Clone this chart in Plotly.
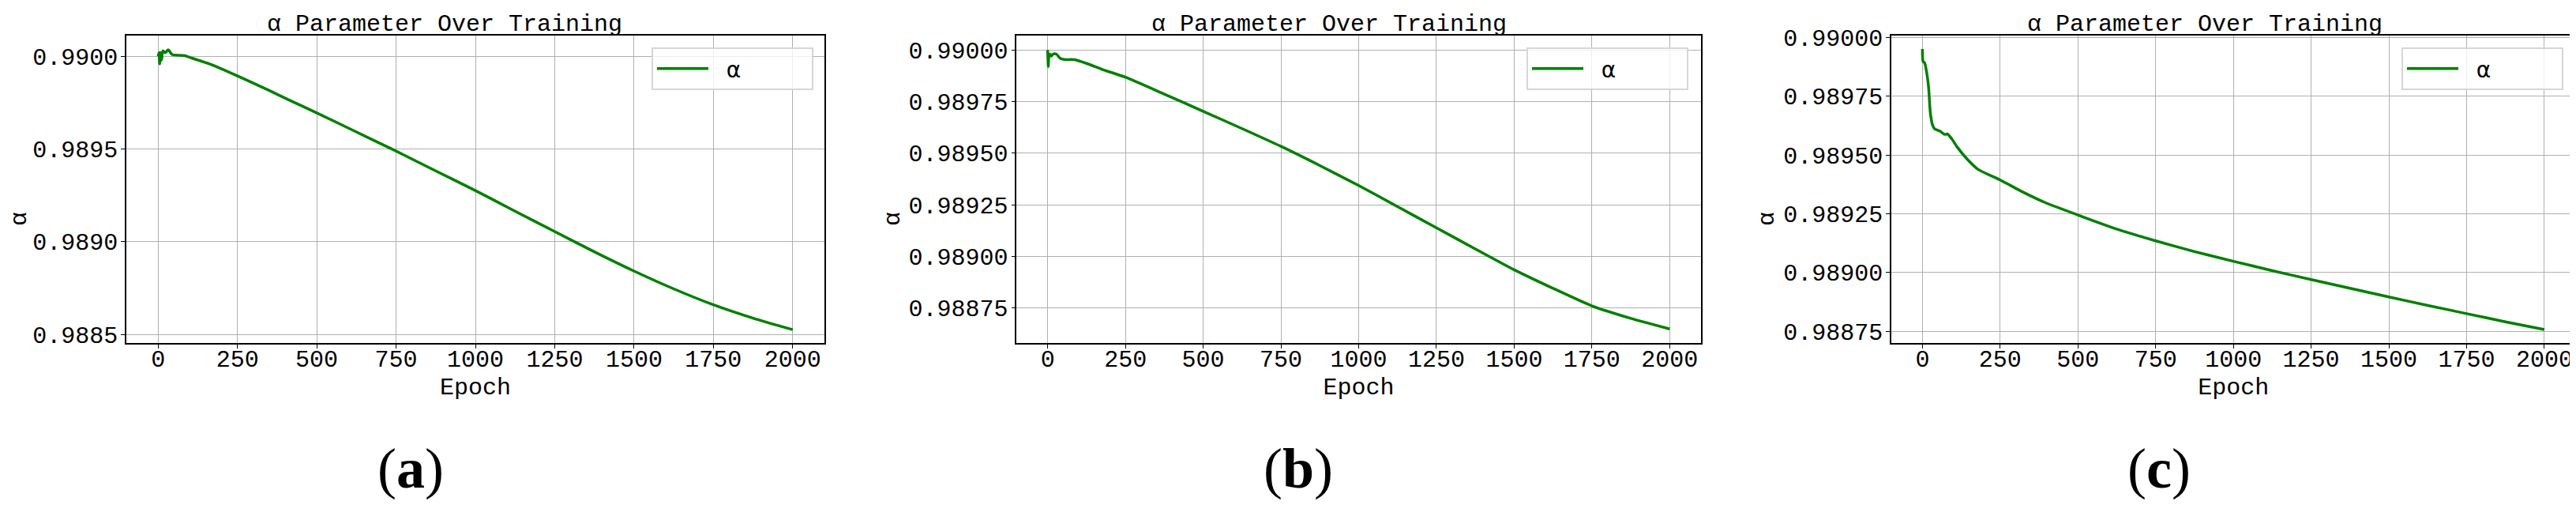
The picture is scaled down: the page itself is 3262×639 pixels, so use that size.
import plotly.graph_objects as go

# ---------------- data ----------------
epochs_a = [0, 3, 5, 8, 11, 15, 23, 32, 44, 61, 82, 102, 169, 252, 351, 413, 500, 625,
            750, 875, 1000, 1125, 1250, 1375, 1500, 1625, 1750, 1875, 2000]
alpha_a = [0.99000, 0.99002, 0.98996, 0.99002, 0.98998, 0.99003, 0.99002, 0.990035, 0.99001,
           0.990006, 0.990004, 0.989993, 0.989955, 0.989893, 0.989815, 0.989764, 0.989695,
           0.989592, 0.989489, 0.989382, 0.989276, 0.989165, 0.989055, 0.988946, 0.988842,
           0.988746, 0.988660, 0.988588, 0.988526]

epochs_b = [0, 2, 4, 7, 11, 17, 28, 40, 53, 86, 125, 175, 250, 375, 500, 625, 750, 875,
            1000, 1125, 1250, 1375, 1500, 1625, 1750, 1875, 2000]
alpha_b = [0.99000, 0.98992, 0.98997, 0.98998, 0.98997, 0.98998, 0.98998, 0.98996, 0.989954,
           0.989953, 0.989935, 0.989906, 0.989868, 0.989786, 0.989703, 0.989619, 0.989533,
           0.989440, 0.989343, 0.989241, 0.989138, 0.989036, 0.988935, 0.988845, 0.988760,
           0.988699, 0.988648]

epochs_c = [0, 2, 7, 14, 20, 25, 32, 39, 57, 71, 80, 95, 112, 143, 179, 250, 321, 393, 500,
            625, 750, 875, 1000, 1125, 1250, 1375, 1500, 1625, 1750, 1875, 2000]
alpha_c = [0.989952, 0.989899, 0.989893, 0.989849, 0.989787, 0.989686, 0.98963, 0.989612,
           0.989602, 0.989588, 0.98959, 0.989568, 0.989534, 0.989484, 0.989439, 0.989394,
           0.989344, 0.989299, 0.989245, 0.989185, 0.989135, 0.989089, 0.989048, 0.989008,
           0.988970, 0.988933, 0.988896, 0.988860, 0.988825, 0.988790, 0.988757]

x_ticks = [0, 250, 500, 750, 1000, 1250, 1500, 1750, 2000]
y_ticks_a = [0.9885, 0.9890, 0.9895, 0.9900]
y_ticks_bc = [0.98875, 0.98900, 0.98925, 0.98950, 0.98975, 0.99000]

title_text = "α Parameter Over Training"
x_title = "Epoch"
y_title = "α"
legend_name = "\u00a0\u00a0α"
panel_letters = ["a", "b", "c"]

# ---------------- layout helpers ----------------
W, H = 3262, 639
def px(x):
    return x / W
def py(y):
    return 1 - y / H

MONO = "Courier New, Liberation Mono, monospace"
SERIF = "Liberation Serif, Times New Roman, serif"
GREEN = "#008000"
GRID = "#b0b0b0"

panels = [
    dict(x=epochs_a, y=alpha_a, dom=(152, 1036), yr=(0.988454, 0.990112), yt=y_ticks_a, fmt=".4f",
         title_cx=555, ylab_cx=17, label_cx=512, leg_right=1022),
    dict(x=epochs_b, y=alpha_b, dom=(1279.3, 2145.7), yr=(0.98858, 0.99007), yt=y_ticks_bc, fmt=".5f",
         title_cx=1675, ylab_cx=1123, label_cx=1636, leg_right=2130),
    dict(x=epochs_c, y=alpha_c, dom=(2387, 3253.3), yr=(0.988700, 0.990009), yt=y_ticks_bc, fmt=".5f",
         title_cx=2784, ylab_cx=2230, label_cx=2726, leg_right=3238),
]

fig = go.Figure()
annotations = []
layout_extra = {}
top_px, bot_px = 37, 426

for i, p in enumerate(panels, start=1):
    xa = "x" if i == 1 else f"x{i}"
    ya = "y" if i == 1 else f"y{i}"
    leg = "legend" if i == 1 else f"legend{i}"
    fig.add_trace(go.Scatter(x=p["x"], y=p["y"], mode="lines", name=legend_name,
                             line=dict(color=GREEN, width=3.5, shape="spline", smoothing=0.6),
                             xaxis=xa, yaxis=ya, legend=leg, showlegend=True))
    axis_common = dict(showline=True, linecolor="black", linewidth=1.5, mirror=True,
                       ticks="outside", ticklen=5, tickwidth=1, tickcolor="black",
                       showgrid=True, gridcolor=GRID, gridwidth=1, zeroline=False,
                       automargin=False,
                       tickfont=dict(family=MONO, size=30, color="black"))
    layout_extra["xaxis" if i == 1 else f"xaxis{i}"] = dict(
        axis_common, domain=[px(p["dom"][0]), px(p["dom"][1])], range=[-100, 2100],
        tickvals=x_ticks, anchor=ya, ticklabelstandoff=-13,
        title=dict(text=x_title, font=dict(family=MONO, size=30, color="black"), standoff=6))
    layout_extra["yaxis" if i == 1 else f"yaxis{i}"] = dict(
        axis_common, domain=[py(bot_px), py(top_px)], range=list(p["yr"]),
        tickvals=p["yt"], tickformat=p["fmt"], anchor=xa, ticklabelstandoff=-2)
    layout_extra[leg] = dict(
        x=px(p["leg_right"]), y=py(52), xanchor="right", yanchor="top",
        bgcolor="rgba(255,255,255,0.8)", bordercolor="#d6d6d6", borderwidth=2,
        font=dict(family="DejaVu Sans, sans-serif", size=28, color="black"),
        orientation="h", entrywidth=121, itemwidth=65)
    annotations.append(dict(text=title_text, x=px(p["title_cx"]), y=py(23), xref="paper", yref="paper",
                            showarrow=False, xanchor="center", yanchor="middle",
                            font=dict(family=MONO, size=30, color="black")))
    annotations.append(dict(text=y_title, x=px(p["ylab_cx"]), y=py(269), xref="paper", yref="paper",
                            showarrow=False, xanchor="center", yanchor="middle", textangle=-90,
                            font=dict(family=MONO, size=30, color="black")))
    annotations.append(dict(text="(<b>" + panel_letters[i - 1] + "</b>)", x=px(p["label_cx"]), y=py(585),
                            xref="paper", yref="paper", showarrow=False,
                            xanchor="center", yanchor="middle",
                            font=dict(family=SERIF, size=72, color="black")))

fig.update_layout(width=W, height=H, margin=dict(l=0, r=0, t=0, b=0, autoexpand=False),
                  paper_bgcolor="white", plot_bgcolor="white",
                  annotations=annotations, **layout_extra)

fig.write_html("out.html")
